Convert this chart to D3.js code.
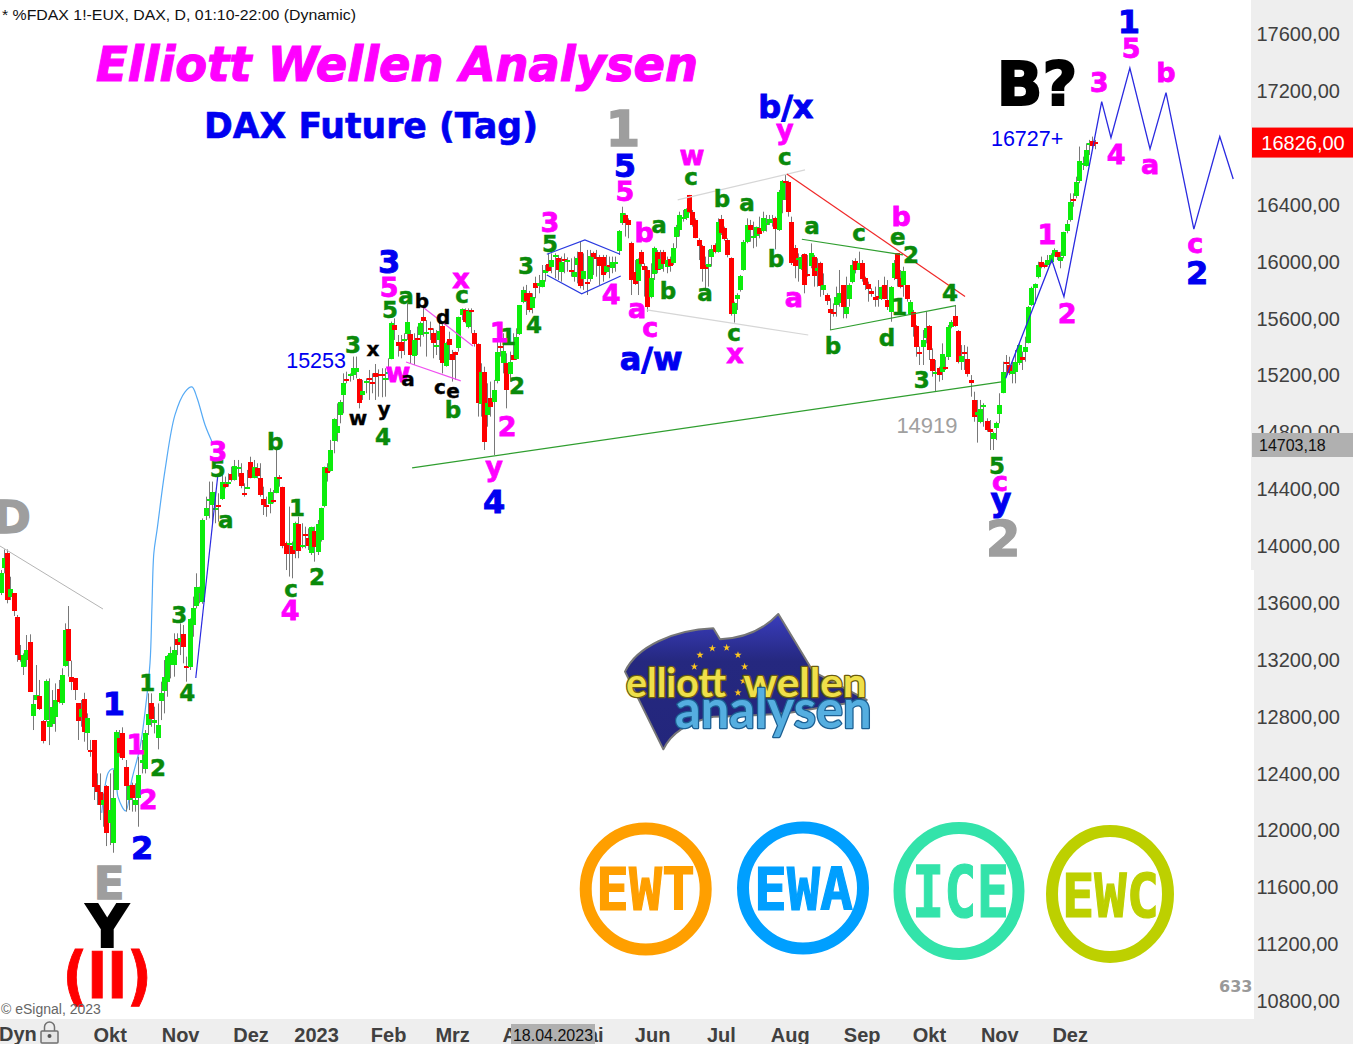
<!DOCTYPE html>
<html><head><meta charset="utf-8">
<script src="https://cdn.jsdelivr.net/npm/d3@7/dist/d3.min.js"></script>
<style>html,body{margin:0;padding:0;background:#fff;overflow:hidden}svg{display:block}</style>
</head><body><svg id="c" width="1353" height="1044"></svg>
<script>
const opens=[13663,13839,13944,13640,13663,13494,13229,13143,13194,13323,
12803,12913,12943,12765,12772,12725,12749,12796,12990,12889,
13152,13412,13072,13065,12889,12791,12920,12678,12561,12632,
12315,12268,12175,12308,12046,11910,12285,12643,12678,12439,
12210,12315,12175,12221,12468,12428,12737,12889,12749,12648,
12908,12971,13042,13159,13159,13339,13323,13375,13152,13140,
13440,13569,13663,13604,14207,14308,14285,14256,14282,14331,
14430,14434,14503,14460,14545,14507,14371,14404,14589,14479,
14542,14477,14324,14285,14296,14320,14371,14479,14409,14015,
14003,13998,13968,14151,13992,14078,14050,13945,14102,13956,
14038,14273,14542,14526,14735,14788,14917,15058,15168,15194,
15194,15222,15168,15058,15145,15175,15152,15210,15206,15203,
15168,15210,15316,15550,15428,15428,15440,15487,15487,15335,
15456,15480,15604,15496,15527,15492,15398,15445,15543,15262,
15452,15344,15358,15386,15621,15656,15534,15656,15492,15417,
15000,15222,14917,15039,15011,15152,15405,15281,15281,15210,
15339,15311,15487,15710,15773,15773,15672,15843,15820,15820,
15914,15979,15956,16031,16019,15925,16012,15996,15937,15890,
15972,16061,15874,15850,15874,16054,16031,16026,16026,15925,
15972,15949,15984,16073,16265,16324,16289,16125,15925,15860,
16061,15968,15937,15743,15909,16066,15944,16061,15961,16012,
15984,16165,16218,16300,16300,16465,16347,16289,16148,16106,
15972,15956,16024,16113,16066,16293,16230,16148,16019,15628,
15733,15797,15937,16136,16254,16165,16176,16235,16207,16258,
16265,16270,16300,16218,16429,16565,16558,16272,16090,16003,
15944,16049,15906,15960,16026,15930,15984,15796,15761,15660,
15639,15691,15702,15831,15627,15733,15855,16000,15937,15984,
15878,15838,15789,15749,15754,15738,15831,15726,15644,15878,
16054,15878,15831,15831,15627,15644,15543,15360,15398,15456,
15543,15309,15210,15245,15222,15252,15323,15538,15613,15508,
15292,15360,15311,15163,15023,14917,14863,14976,14875,14816,
14746,14821,14924,15074,15288,15269,15203,15222,15280,15323,
15355,15426,15691,15808,15885,15995,15972,15972,15995,16042,
16061,16002,16031,16211,16284,16434,16452,16563,16676,16671,16821,16844,16835];
const highs=[13827,13972,13972,13780,13663,13511,13300,13241,13370,13375,
12948,13159,13054,12772,13058,13065,12983,13030,13054,13136,
13452,13574,13190,13065,12889,12913,12964,12819,12632,12632,
12397,12397,12256,12315,12397,12421,12702,12702,12721,12491,
12315,12332,12327,12514,12632,12702,12960,12960,12866,12889,
13042,13194,13229,13288,13382,13382,13452,13440,13218,13487,
13640,13804,13710,14190,14343,14449,14449,14378,14367,14495,
14484,14507,14554,14601,14601,14578,14437,14531,14624,14601,
14578,14578,14413,14343,14402,14390,14683,14495,14413,14027,
14273,14027,14167,14202,14156,14132,14120,14132,14132,14179,
14266,14554,14578,14742,14894,14999,15023,15210,15222,15210,
15328,15328,15175,15164,15175,15234,15210,15276,15238,15246,
15246,15316,15574,15597,15480,15480,15492,15703,15515,15492,
15539,15574,15679,15585,15574,15527,15515,15574,15562,15433,
15503,15375,15363,15609,15667,15667,15667,15667,15515,15421,
15281,15257,15140,15152,15164,15433,15433,15492,15351,15363,
15492,15527,15691,15820,15832,15790,15773,15890,15902,15972,
15972,16054,16054,16054,16043,16031,16054,16026,16019,16031,
16066,16136,16054,16078,16078,16066,16078,16043,16043,16043,
16031,16031,16031,16218,16382,16336,16300,16136,16007,16019,
16078,15984,15961,15984,16101,16078,16078,16078,16031,16031,
16125,16254,16347,16359,16371,16465,16359,16300,16160,16113,
16031,16078,16113,16125,16300,16324,16242,16160,16026,15714,
15773,15902,16148,16300,16289,16277,16242,16312,16347,16324,
16324,16324,16312,16500,16570,16612,16565,16312,16113,16054,
16043,16054,16042,16124,16042,16019,15995,15913,15773,15738,
15702,15820,15937,15831,15890,15843,16007,16019,16066,16007,
15890,15855,15808,15820,15866,15820,15890,15866,15824,16007,
16054,15937,15960,15831,15726,15656,15550,15398,15515,15644,
15550,15386,15304,15257,15421,15327,15550,15585,15691,15515,
15409,15409,15398,15198,15081,15023,15023,15000,14894,14882,
14800,14870,15070,15292,15339,15327,15292,15374,15421,15363,
15468,15684,15820,15843,15995,16031,15984,16042,16054,16089,
16077,16066,16206,16288,16476,16476,16593,16805,16734,16828,16852,16875,16852];
const lows=[13651,13804,13593,13616,13504,13182,13182,13089,13147,12971,
12702,12913,12843,12608,12760,12596,12725,12690,12889,12878,
13147,13077,12983,12913,12632,12725,12620,12561,12514,12210,
12175,12069,12022,11886,11893,11839,12280,12514,12491,12128,
12139,12128,12128,12022,12397,12397,12667,12725,12678,12566,
12772,12819,12936,13065,13077,13229,13229,13171,13042,13124,
13358,13557,13593,13590,14179,14191,14144,14156,14167,14320,
14402,14413,14449,14456,14484,14402,14343,14402,14472,14472,
14472,14343,14214,14202,14226,14296,14367,14413,13980,13827,
13781,13769,13910,13910,13980,13980,13968,13933,13886,13933,
14027,14268,14449,14519,14648,14730,14859,14929,15140,15152,
15164,15175,14964,15023,15070,15023,15070,15023,15046,15042,
15046,15164,15309,15445,15328,15316,15339,15445,15281,15269,
15339,15398,15468,15328,15445,15316,15339,15304,15210,15257,
15304,15152,15164,15363,15585,15562,15527,15492,15398,14906,
14906,14671,14835,14906,14636,15140,15328,15210,14964,15152,
15304,15304,15480,15703,15621,15640,15632,15738,15773,15815,
15855,15925,15914,15879,15867,15855,15914,15925,15890,15855,
15843,15808,15797,15761,15855,15902,15890,15832,15855,15914,
15879,15914,15925,16043,16254,16172,16160,15761,15832,15761,
15961,15750,15644,15738,15867,15914,15937,15925,15914,15925,
15972,16090,16172,16277,16289,16336,16242,16160,16007,15855,
15797,15820,15961,16054,16059,16183,16143,16026,15616,15567,
15656,15785,15932,16125,16136,16090,16101,16160,16200,16207,
16254,16242,16082,16211,16336,16429,16312,15972,15879,15855,
15937,15773,15890,15949,15820,15820,15749,15761,15691,15515,
15609,15609,15679,15597,15597,15679,15843,15913,15937,15855,
15796,15714,15749,15679,15679,15726,15731,15656,15573,15866,
15820,15808,15749,15714,15620,15468,15327,15269,15269,15421,
15304,15187,15081,15152,15163,15234,15304,15527,15538,15280,
15234,15234,15187,15046,14870,14723,14859,14835,14800,14671,
14671,14741,14859,15070,15187,15198,15140,15140,15269,15234,
15292,15421,15684,15702,15878,15949,15949,15960,15984,16031,
16007,15949,16019,16195,16277,16382,16441,16547,16640,16664,16746,16793,16786];
const closes=[13804,13909,13616,13693,13534,13225,13194,13229,13264,12971,
12885,12948,12850,12627,13046,12765,12866,12913,12901,13089,
13405,13190,13035,12979,12760,12847,12690,12784,12550,12303,
12268,12175,12210,11980,12139,12226,12690,12538,12503,12303,
12308,12226,12210,12385,12491,12678,12812,12779,12772,12737,
12964,13072,13222,13241,13264,13295,13351,13281,13143,13480,
13557,13705,13705,14179,14261,14324,14378,14266,14273,14449,
14409,14444,14460,14559,14554,14413,14362,14413,14479,14554,
14484,14355,14280,14273,14378,14308,14484,14470,13992,13938,
14015,13945,14160,13963,14003,14067,13992,14127,13992,14151,
14261,14549,14507,14671,14889,14840,15006,15140,15157,15203,
15246,15250,14999,15086,15159,15159,15140,15182,15192,15192,
15180,15222,15567,15515,15398,15363,15449,15574,15339,15445,
15447,15562,15574,15503,15515,15421,15410,15510,15285,15421,
15410,15304,15335,15604,15660,15574,15649,15644,15417,15000,
15222,14730,14999,14976,15093,15358,15391,15367,15093,15292,
15304,15464,15691,15796,15719,15656,15750,15808,15843,15867,
15937,15932,16007,16043,15932,15996,16000,16007,15928,15925,
16019,15820,15932,15841,16038,16026,16019,15961,15902,15965,
15961,15991,15996,16211,16336,16265,16254,15867,15843,16012,
15979,15937,15675,15879,16090,15937,16014,15979,16007,15961,
16090,16237,16324,16312,16364,16347,16254,16165,16106,15942,
15942,15979,16082,16066,16277,16195,16155,16043,15625,15703,
15761,15895,16132,16254,16218,16176,16237,16195,16300,16270,
16293,16284,16223,16488,16565,16554,16347,15984,15961,16019,
16026,15831,15897,16054,15890,15953,15820,15831,15719,15632,
15630,15749,15773,15674,15674,15831,15972,15937,15984,15874,
15831,15801,15766,15731,15742,15820,15733,15679,15820,15984,
15874,15815,15930,15731,15714,15538,15398,15351,15445,15527,
15374,15222,15222,15194,15346,15243,15534,15573,15545,15292,
15334,15348,15203,15140,14905,14941,14957,14985,14812,14793,
14788,14859,14987,15220,15273,15210,15227,15292,15409,15299,
15393,15679,15808,15838,15972,15960,15960,16007,16042,16077,
16026,16031,16202,16258,16413,16424,16553,16704,16687,16781,16833,16812,16826];

const priceTicks=[17600,17200,16400,16000,15600,15200,14800,14400,14000,13600,13200,12800,12400,12000,11600,11200,10800];
const monthNames=["Okt","Nov","Dez","2023","Feb","Mrz","Apr","Mai","Jun","Jul","Aug","Sep","Okt","Nov","Dez"];
const monthBars=[34,56,78,98.5,121,141,162,183,203.5,225,246.5,269,290,312,334];
const lastPrice=16826, crosshairPrice=14703.18, crosshairDate="18.04.2023";

const greyLine=[[-0.3,13996],[31.9,13553]];
const lightCurve=[[31.5,12119],[33.5,12400],[34.6,12428],[35.7,12421],[36.6,12232],[39,12133],[40.9,12351],[43.5,12583],[45,12822],[46.6,13174],[47.2,13568],[47.8,13947],[48.8,14109],[51.3,14531],[54.4,14918],[57.5,15079],[59.7,15115],[61.3,15037],[63.8,14847],[66,14728]];
const blueLeg=[[60.9,13068],[67.8,14496]];
const longGreen=[[128.5,14545],[312.7,15150]];
const magentaUp=[[131,15691],[147.5,15403]];
const magentaLow=[[126.6,15290],[143.7,15157]];
const diamondUp=[[170.6,16048],[182.5,16148],[193.5,16048]];
const diamondLow=[[170.6,15902],[181.5,15769],[193.7,15895]];
const paleUp=[[211.5,16430],[251.3,16641]];
const paleLow=[[201.8,15656],[252.3,15480]];
const redLine=[[245.6,16612],[301.3,15750]];
const triUp=[[250.3,16153],[281.9,16043]];
const triLow=[[259.1,15515],[298.4,15686]];
const projection=[[314,15176],[328.4,16008],[332.2,15750],[344,17121],[346.9,16868],[352.8,17356],[359.1,16788],[364.1,17184],[372.8,16224],[380.9,16875],[385.1,16577]];

// [text, bar, price]
const greenLabels=[["3",55.7,13511],["1",45.7,13033],["4",58.2,12963],["2",49.1,12435],["c",90.7,13680],["2",98.8,13778],["5",67.8,14538],["a",70.3,14165],["b",85.7,14728],["1",92.5,14264],["3",110,15410],["4",119.4,14763],["5",121.6,15656],["a",126.6,15740],["b",141.3,14953],["c",144.1,15747],["1",158.5,15466],["2",161.3,15122],["3",164.1,15965],["4",166.6,15551],["5",171.6,16120],["a",205.7,16240],["b",208.5,15790],["c",215.7,16577],["b",225.3,16437],["a",233.2,16394],["a",220,15762],["b",242.2,16015],["c",229.1,15480],["c",245,16718],["a",253.5,16233],["b",260,15403],["c",268.2,16183],["d",276.9,15459],["e",280.3,16155],["2",284.4,16043],["1",280.7,15677],["4",296.6,15776],["3",287.8,15164],["5",311.3,14559]];
const magentaLabels=[["4",90.4,13546],["1",42.2,12604],["2",46,12218],["3",67.8,14665],["w",124.1,15199],["5",121.3,15818],["x",143.8,15860],["1",155.7,15501],["2",158.2,14840],["y",154.1,14524],["3",171.6,16275],["4",190.7,15769],["a",198.8,15649],["c",202.9,15515],["b",201,16205],["5",195,16493],["w",216,16725],["x",229.4,15333],["y",245,16894],["a",247.8,15726],["b",281.3,16317],["c",312.2,14432],["1",326.9,16190],["2",333.2,15635],["5",353.2,17498],["3",343.2,17259],["4",348.5,16753],["a",359.1,16662],["b",364.1,17330],["c",373.2,16106]];
const blueLabels=[["1",35.3,12892],["2",44.1,11880],["3",121.3,16001],["4",154.1,14313],["5",195,16676],["a/w",203.2,15304],["b/x",245.3,17070],["y",312.5,14285],["1",352.5,17688],["2",373.8,15923]];
const blackLabels=[["x",116.3,15368],["w",111.6,14883],["y",119.7,14939],["a",127.2,15157],["b",131.6,15719],["d",138.2,15607],["c",137.2,15100],["e",141.3,15072]];
const greyLabels=[["D",3.5,14200],["E",33.8,11627],["1",194.4,16936],["2",313.2,14053]];
const heavyLabels=[["Y",33.2,11324],["B?",323.8,17252]];
const redLabels=[["(II)",33.2,10983]];
const plainBlue=[["15253",98.5,15304],["16727+",320.7,16866]];
const plainGrey=[["14919",289.4,14847]];

const svg=d3.select("#c");
const x=d3.scaleLinear().domain([0,1]).range([0.9,4.1]);
const y=d3.scaleLinear().domain([17600,10800]).range([33.5,1000.5]);
const DV='"DejaVu Sans",Verdana,sans-serif', LS='"Liberation Sans",Arial,sans-serif';

// panels
svg.append("rect").attr("x",1251).attr("y",0).attr("width",102).attr("height",570).attr("fill","#eeeeee");
svg.append("rect").attr("x",1254).attr("y",570).attr("width",99).attr("height",474).attr("fill","#eeeeee");

const line=d3.line().x(d=>x(d[0])).y(d=>y(d[1]));
const addLine=(pts,col,w,gen)=>svg.append("path").attr("d",(gen||line)(pts)).attr("fill","none").attr("stroke",col).attr("stroke-width",w);
addLine(lightCurve,"#55aaf5",1.2,d3.line().x(d=>x(d[0])).y(d=>y(d[1])).curve(d3.curveCatmullRom));

// candles
const idx=d3.range(opens.length);
const g=svg.append("g");
idx.forEach(i=>{
  const cx=Math.round(x(i));
  g.append("line").attr("x1",cx+.5).attr("x2",cx+.5).attr("y1",y(highs[i])).attr("y2",y(lows[i])).attr("stroke","#787878").attr("stroke-width",1);
});
idx.forEach(i=>{
  const cx=Math.round(x(i));
  const t=y(Math.max(opens[i],closes[i])), b=y(Math.min(opens[i],closes[i]));
  g.append("rect").attr("x",cx-2).attr("width",5).attr("y",Math.round(t)).attr("height",Math.max(2,Math.round(b-t)))
   .attr("fill",closes[i]>=opens[i]?"#0ced0c":"#ff0000").attr("shape-rendering","crispEdges");
});

addLine(greyLine,"#b4b4b4",1);
addLine(blueLeg,"#2a2ae0",1.2);
addLine(longGreen,"#2f9e2f",1.2);
addLine(magentaUp,"#f050f0",1.2);
addLine(magentaLow,"#f050f0",1.2);
addLine(diamondUp,"#2a3ae0",1.2);
addLine(diamondLow,"#2a3ae0",1.2);
addLine(paleUp,"#d6d6d6",1.2);
addLine(paleLow,"#d6d6d6",1.2);
addLine(redLine,"#f02828",1.2);
addLine(triUp,"#2f9e2f",1.2);
addLine(triLow,"#2f9e2f",1.2);
addLine(projection,"#2a2ae0",1.3);

function glyphDy(t){ if(/^[acewx]$/.test(t))return .27; if(t==="y")return .18; if(/\//.test(t))return .3; return .365; }
function drawLabels(rows,col,sizeOf,weight,font,stroke){
  return svg.append("g").selectAll("text").data(rows).join("text")
   .attr("x",d=>x(d[1])).attr("y",d=>y(d[2])+glyphDy(d[0])*sizeOf(d))
   .attr("text-anchor","middle").attr("fill",col).attr("font-family",font).attr("font-weight",weight)
   .attr("font-size",d=>sizeOf(d)).attr("stroke",stroke?col:null).attr("stroke-width",stroke||null)
   .text(d=>d[0]);
}
drawLabels(greenLabels,"#0a8a0a",()=>23,"bold",DV,.5);
drawLabels(magentaLabels,"#ff00ff",()=>27,"bold",DV,.8);
drawLabels(blueLabels,"#0000f0",()=>32,"bold",DV,.9);
drawLabels(blackLabels,"#000",()=>20,"bold",DV,.4);
drawLabels(greyLabels,"#9e9e9e",d=>d[0]==="D"||d[0]==="E"?45:50,"bold",DV,1.4);
drawLabels(heavyLabels,"#000",d=>d[0]==="Y"?58:60,"bold",DV,2);
drawLabels(redLabels,"#ff0000",()=>64,"bold",DV,1).attr("textLength",89).attr("lengthAdjust","spacingAndGlyphs");
drawLabels(plainBlue,"#0000f0",()=>21.5,"normal",LS);
drawLabels(plainGrey,"#a0a0a0",()=>22,"normal",LS);

// white strip above the time axis, then the axis band over anything that runs down into it
svg.append("rect").attr("x",0).attr("y",1009).attr("width",1251).attr("height",10).attr("fill","#fff");
svg.append("rect").attr("x",0).attr("y",1019).attr("width",1353).attr("height",25).attr("fill","#eeeeee");
svg.append("text").attr("x",1).attr("y",1014).attr("font-family",LS).attr("font-size",14).attr("fill","#666").text("© eSignal, 2023");

// headings
svg.append("text").attr("x",2).attr("y",20).attr("font-family",LS).attr("font-size",15).attr("fill","#111").attr("textLength",354).attr("lengthAdjust","spacingAndGlyphs").text("* %FDAX 1!-EUX, DAX, D, 01:10-22:00 (Dynamic)");
svg.append("text").attr("x",96).attr("y",81).attr("font-family",DV).attr("font-weight","bold").attr("font-style","italic").attr("font-size",48).attr("fill","#ff00ff").attr("stroke","#ff00ff").attr("stroke-width",1.2).attr("textLength",602).attr("lengthAdjust","spacingAndGlyphs").text("Elliott Wellen Analysen");
svg.append("text").attr("x",204).attr("y",138).attr("font-family",DV).attr("font-weight","bold").attr("font-size",35).attr("fill","#0000f0").attr("stroke","#0000f0").attr("stroke-width",.6).attr("textLength",334).attr("lengthAdjust","spacingAndGlyphs").text("DAX Future (Tag)");

// price axis
const yAxis=d3.axisRight(y).tickValues(priceTicks).tickFormat(d=>d+",00").tickSize(0).tickPadding(6);
const ya=svg.append("g").attr("transform","translate(1250.5,0.7)").call(yAxis);
ya.select(".domain").remove();
ya.selectAll("text").attr("font-family",LS).attr("font-size",20).attr("fill","#404040");
svg.append("rect").attr("x",1252).attr("y",y(lastPrice)-16).attr("width",101).attr("height",30).attr("fill","#ff0000");
svg.append("text").attr("x",1303).attr("y",y(lastPrice)+6).attr("text-anchor","middle").attr("font-family",LS).attr("font-size",20).attr("fill","#fff").text(String(lastPrice)+",00");
svg.append("rect").attr("x",1252).attr("y",433).attr("width",101).attr("height",24).attr("fill","#b0b0b0");
svg.append("text").attr("x",1259).attr("y",451).attr("font-family",LS).attr("font-size",16).attr("fill","#111").text(String(crosshairPrice).replace(".",","));
svg.append("text").attr("x",1219).attr("y",992).attr("font-family",DV).attr("font-weight","bold").attr("font-size",16).attr("fill","#999").text("633");

// time axis
const xAxis=d3.axisBottom(x).tickValues(monthBars).tickFormat((d,i)=>monthNames[i]).tickSize(0).tickPadding(9);
const xa=svg.append("g").attr("transform","translate(0,1019)").call(xAxis);
xa.select(".domain").remove();
xa.selectAll("text").attr("font-family",LS).attr("font-size",20).attr("fill","#404040").attr("font-weight","bold");
svg.append("rect").attr("x",511).attr("y",1024).attr("width",84).attr("height",20).attr("fill","#b0b0b0");
svg.append("text").attr("x",553).attr("y",1041).attr("text-anchor","middle").attr("font-family",LS).attr("font-size",16).attr("fill","#111").text(crosshairDate);
svg.append("text").attr("x",-1).attr("y",1041).attr("font-family",LS).attr("font-size",20).attr("font-weight","bold").attr("fill","#404040").text("Dyn");
const lock=svg.append("g").attr("fill","none").attr("stroke","#707070").attr("stroke-width",1.5);
lock.append("rect").attr("x",41).attr("y",1031).attr("width",17).attr("height",12).attr("rx",1).attr("fill","#e4e4e4");
lock.append("path").attr("d","M44.5 1031v-4a5 5 0 0 1 10 0v4");
svg.append("circle").attr("cx",49.5).attr("cy",1036).attr("r",2).attr("fill","#555");

// four ring badges: name, centre, radii, colour, text left, text width, baseline, size
const rings=[["EWT",645.7,889,60,60.5,"#ff9f00",596,99,910,58],["EWA",803,888,60,60.5,"#009fff",754,99,910,58],["ICE",959,891,59.5,63,"#33e3aa",912,97,917,71],["EWC",1110,894,58,63,"#bdd000",1062,97,917,60]];
rings.forEach(r=>{
  svg.append("ellipse").attr("cx",r[1]).attr("cy",r[2]).attr("rx",r[3]).attr("ry",r[4]).attr("fill","#fff").attr("stroke",r[5]).attr("stroke-width",12);
  svg.append("text").attr("x",r[6]).attr("y",r[8]).attr("font-family",'"DejaVu Sans Mono",monospace').attr("font-weight","bold").attr("font-size",r[9]).attr("fill",r[5]).attr("stroke",r[5]).attr("stroke-width",1.2).attr("textLength",r[7]).attr("lengthAdjust","spacingAndGlyphs").text(r[0]);
});

// flag logo
const logo=svg.append("g").attr("transform","translate(600,600) scale(.3333)");
const defs=svg.append("defs");
const gr=defs.append("linearGradient").attr("id","fl").attr("x1",0).attr("y1",0).attr("x2",0).attr("y2",1);
gr.append("stop").attr("offset","0").attr("stop-color","#3a3dbd");gr.append("stop").attr("offset",".35").attr("stop-color","#25287f");gr.append("stop").attr("offset","1").attr("stop-color","#23267c");
logo.append("path").attr("d","M75 215C110 140 220 90 340 85L360 118C430 115 490 90 535 42L640 215L800 300L560 340C480 345 420 350 340 350C270 365 215 395 190 448Z")
 .attr("fill","url(#fl)").attr("stroke","#777").attr("stroke-width",6).attr("stroke-linejoin","round");
[[300,165],[337,145],[380,143],[414,165],[434,200],[430,243],[414,278],[283,200]].forEach(p=>{
  const s=d3.symbol().type(d3.symbolStar).size(150);
  logo.append("path").attr("d",s()).attr("transform",`translate(${p[0]},${p[1]})`).attr("fill","#ffc81e");
});
function logoText(t,xx,yy,len,fs,fill,st){
  logo.append("text").attr("x",xx).attr("y",yy).attr("font-family",'Lato,"Liberation Sans",sans-serif').attr("font-weight","bold").attr("font-size",fs)
   .attr("textLength",len).attr("lengthAdjust","spacingAndGlyphs").attr("fill",fill).attr("stroke",st).attr("stroke-width",8).attr("paint-order","stroke").attr("stroke-linejoin","round").text(t);
}
logoText("elliott",78,290,300,122,"#efe04a","#6a5c10");
logoText("wellen",430,290,370,122,"#efe04a","#6a5c10");
logoText("analysen",225,385,590,158,"#55aee0","#1c5f92");
</script></body></html>
